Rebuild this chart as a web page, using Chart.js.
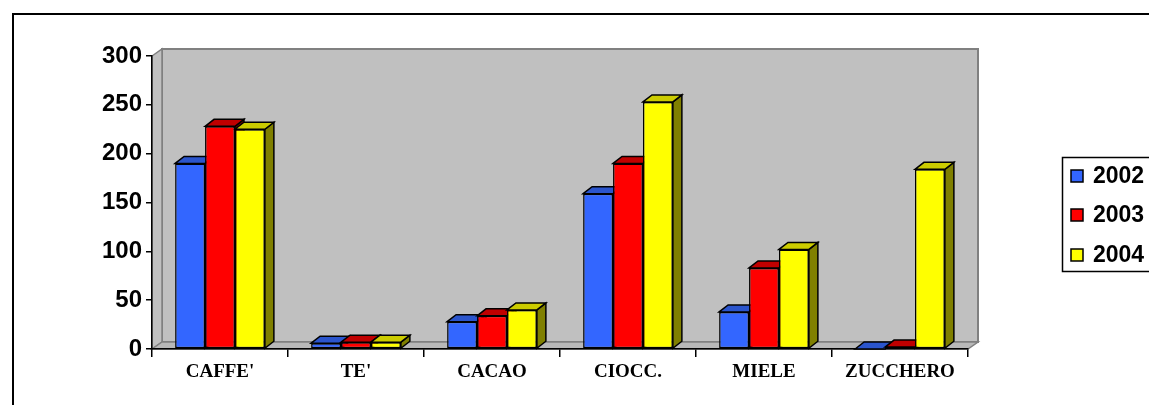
<!DOCTYPE html>
<html>
<head>
<meta charset="utf-8">
<script src="https://cdn.jsdelivr.net/npm/chart.js@4/dist/chart.umd.min.js"></script>
<style>
  html, body { margin: 0; padding: 0; background: #ffffff; overflow: hidden; }
  canvas { display: block; }
</style>
</head>
<body>
<canvas id="chart" width="1149" height="405"></canvas>
<script>
// Categories and yearly quantities
const categories = ["CAFFE'", "TE'", "CACAO", "CIOCC.", "MIELE", "ZUCCHERO"];
const years = ["2002", "2003", "2004"];
const values2002 = [190, 6, 28, 159, 38, 0];
const values2003 = [228, 7, 34, 190, 83, 2];
const values2004 = [225, 7, 40, 253, 102, 184];
const yTicks = [0, 50, 100, 150, 200, 250, 300];

// Face colours: front, top, side
const frontColors = ["#3366FF", "#FF0000", "#FFFF00"];
const topColors = ["#2B55CC", "#C00000", "#CCCC00"];
const sideColors = ["#1F3D99", "#800000", "#808000"];

// Depth of the box walls and of the bars
const WALL_DX = 10, WALL_DY = 7;
const BAR_DX = 9, BAR_DY = 7;

function poly(ctx, pts, fill, stroke, lw) {
  ctx.beginPath();
  ctx.moveTo(pts[0][0], pts[0][1]);
  for (let i = 1; i < pts.length; i++) ctx.lineTo(pts[i][0], pts[i][1]);
  ctx.closePath();
  ctx.fillStyle = fill;
  ctx.fill();
  if (stroke) { ctx.strokeStyle = stroke; ctx.lineWidth = lw; ctx.stroke(); }
}

// Grey back wall, side wall and floor behind the bars
const wallPlugin = {
  id: "wall3d",
  beforeDraw(chart) {
    const { ctx, chartArea: a } = chart;
    ctx.save();
    // outer frame
    ctx.strokeStyle = "#000";
    ctx.lineWidth = 2;
    ctx.strokeRect(13, 14, 1200, 500);
    // back wall
    poly(ctx, [[a.left + WALL_DX, a.top - WALL_DY], [a.right + WALL_DX, a.top - WALL_DY],
               [a.right + WALL_DX, a.bottom - WALL_DY], [a.left + WALL_DX, a.bottom - WALL_DY]],
         "#C0C0C0", "#808080", 2);
    // left wall
    poly(ctx, [[a.left, a.top], [a.left + WALL_DX, a.top - WALL_DY],
               [a.left + WALL_DX, a.bottom - WALL_DY], [a.left, a.bottom]],
         "#C0C0C0", "#808080", 1.5);
    // floor
    poly(ctx, [[a.left, a.bottom], [a.left + WALL_DX, a.bottom - WALL_DY],
               [a.right + WALL_DX, a.bottom - WALL_DY], [a.right, a.bottom]],
         "#B8B8B8", "#808080", 1.5);
    ctx.restore();
  }
};

// Top and side faces of each bar; the library draws the front faces afterwards
const barDepthPlugin = {
  id: "bars3d",
  beforeDatasetsDraw(chart) {
    const ctx = chart.ctx;
    ctx.save();
    ctx.lineJoin = "miter";
    for (let i = 0; i < categories.length; i++) {
      chart.data.datasets.forEach((ds, d) => {
        const el = chart.getDatasetMeta(d).data[i];
        if (!el) return;
        const l = el.x - el.width / 2, r = el.x + el.width / 2;
        const t = el.y, b = el.base;
        poly(ctx, [[r, t], [r + BAR_DX, t - BAR_DY], [r + BAR_DX, b - BAR_DY], [r, b]],
             sideColors[d], "#000", 1.5);
        poly(ctx, [[l, t], [l + BAR_DX, t - BAR_DY], [r + BAR_DX, t - BAR_DY], [r, t]],
             topColors[d], "#000", 1.5);
      });
    }
    ctx.restore();
  }
};

// Boxed legend on the right
const legendPlugin = {
  id: "boxLegend",
  afterDraw(chart) {
    const ctx = chart.ctx;
    ctx.save();
    ctx.strokeStyle = "#000";
    ctx.lineWidth = 1.5;
    ctx.strokeRect(1062.5, 157.5, 200, 114);
    const rows = [176, 215, 255];
    chart.data.datasets.forEach((ds, d) => {
      const cy = rows[d];
      ctx.fillStyle = ds.backgroundColor;
      ctx.fillRect(1071, cy - 6, 12, 12);
      ctx.lineWidth = 1.5;
      ctx.strokeRect(1071, cy - 6, 12, 12);
      ctx.fillStyle = "#000";
      ctx.font = "bold 23px 'Liberation Sans', Arial, sans-serif";
      ctx.textBaseline = "middle";
      ctx.textAlign = "left";
      ctx.fillText(ds.label, 1093, cy + 1);
    });
    ctx.restore();
  }
};

const seriesValues = [values2002, values2003, values2004];

new Chart(document.getElementById("chart"), {
  type: "bar",
  data: {
    labels: categories,
    datasets: years.map((y, d) => ({
      label: y,
      data: seriesValues[d],
      backgroundColor: frontColors[d],
      borderColor: "#000",
      borderWidth: 1.5,
      borderSkipped: false,
      categoryPercentage: 0.66,
      barPercentage: 1.0
    }))
  },
  options: {
    responsive: false,
    devicePixelRatio: 1,
    animation: false,
    layout: { padding: { top: 56, left: 0, right: 181, bottom: 0 } },
    plugins: { legend: { display: false }, tooltip: { enabled: false } },
    scales: {
      x: {
        afterFit(scale) { scale.height = 56; },
        grid: { offset: true, drawOnChartArea: false, drawTicks: true, tickLength: 8, color: "#000", lineWidth: 1.5 },
        border: { display: true, color: "#000", width: 1.5 },
        ticks: {
          color: "#000",
          padding: 4,
          font: { family: "'Liberation Serif', 'Times New Roman', serif", weight: "bold", size: 19 }
        }
      },
      y: {
        min: 0,
        max: 300,
        afterFit(scale) { scale.width = 152; },
        afterBuildTicks(scale) { scale.ticks = yTicks.map(v => ({ value: v })); },
        grid: { drawOnChartArea: false, drawTicks: true, tickLength: 6, color: "#000", lineWidth: 1.5 },
        border: { display: true, color: "#000", width: 1.5 },
        ticks: {
          color: "#000",
          padding: 4,
          font: { family: "'Liberation Sans', Arial, sans-serif", weight: "bold", size: 24 }
        }
      }
    }
  },
  plugins: [wallPlugin, barDepthPlugin, legendPlugin]
});
</script>
</body>
</html>
